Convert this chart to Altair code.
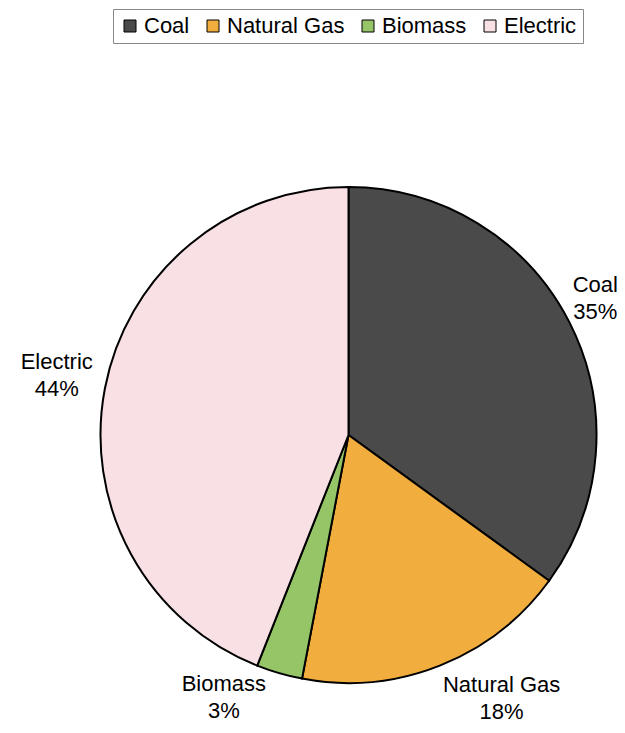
import altair as alt
import pandas as pd

# ---- data ----
categories = ["Coal", "Natural Gas", "Biomass", "Electric"]
shares = [35, 18, 3, 44]
colors = ["#4a4a4a", "#f1ad3e", "#95c567", "#f8e0e4"]

labels = [f"{c}\n{s}%" for c, s in zip(categories, shares)]
df = pd.DataFrame({
    "category": categories,
    "share": shares,
    "order": list(range(len(categories))),
    "label": labels,
})

FONT = "Liberation Sans"
CX, CY, R = 340.5, 427, 248

# label placement (radius, dx, dy) -- styling only
place = {
    "Coal": (286, -8, -20),
    "Natural Gas": (310, 39, -38),
    "Biomass": (300, -41, -39),
    "Electric": (297, 0, -17),
}

color_scale = alt.Scale(domain=categories, range=colors)

pie = alt.Chart(df).mark_arc(radius=R, stroke="black", strokeWidth=2).encode(
    theta=alt.Theta("share:Q", stack=True),
    color=alt.Color(
        "category:N",
        scale=color_scale,
        sort=categories,
        legend=alt.Legend(
            title=None,
            orient="none",
            legendX=105,
            legendY=1,
            direction="horizontal",
            columns=4,
            symbolType="square",
            symbolSize=144,
            symbolStrokeColor="black",
            symbolStrokeWidth=1,
            labelFont=FONT,
            labelFontSize=22,
            labelColor="black",
            labelOffset=3,
            columnPadding=12,
            padding=6,
            strokeColor="#888888",
        ),
    ),
    order=alt.Order("order:Q"),
    x=alt.value(CX),
    y=alt.value(CY),
)

layers = [pie]
for cat in categories:
    r, dx, dy = place[cat]
    t = (
        alt.Chart(df)
        .transform_window(cum="sum(share)", sort=[alt.SortField("order", order="ascending")])
        .transform_calculate(mid="datum.cum - datum.share / 2")
        .transform_filter(alt.datum.category == cat)
        .mark_text(
            radius=r, dx=dx, dy=dy, font=FONT, fontSize=22, lineBreak="\n",
            lineHeight=27, align="center", baseline="middle", color="black",
        )
        .encode(
            theta=alt.Theta("mid:Q", stack=None),
            text="label:N",
            x=alt.value(CX),
            y=alt.value(CY),
        )
    )
    layers.append(t)

chart = (
    alt.layer(*layers)
    .properties(width=609, height=717, autosize="none", padding=0, background="white")
    .configure_view(stroke=None)
)

chart.save("out.html", embed_options={"renderer": "svg", "actions": False})
